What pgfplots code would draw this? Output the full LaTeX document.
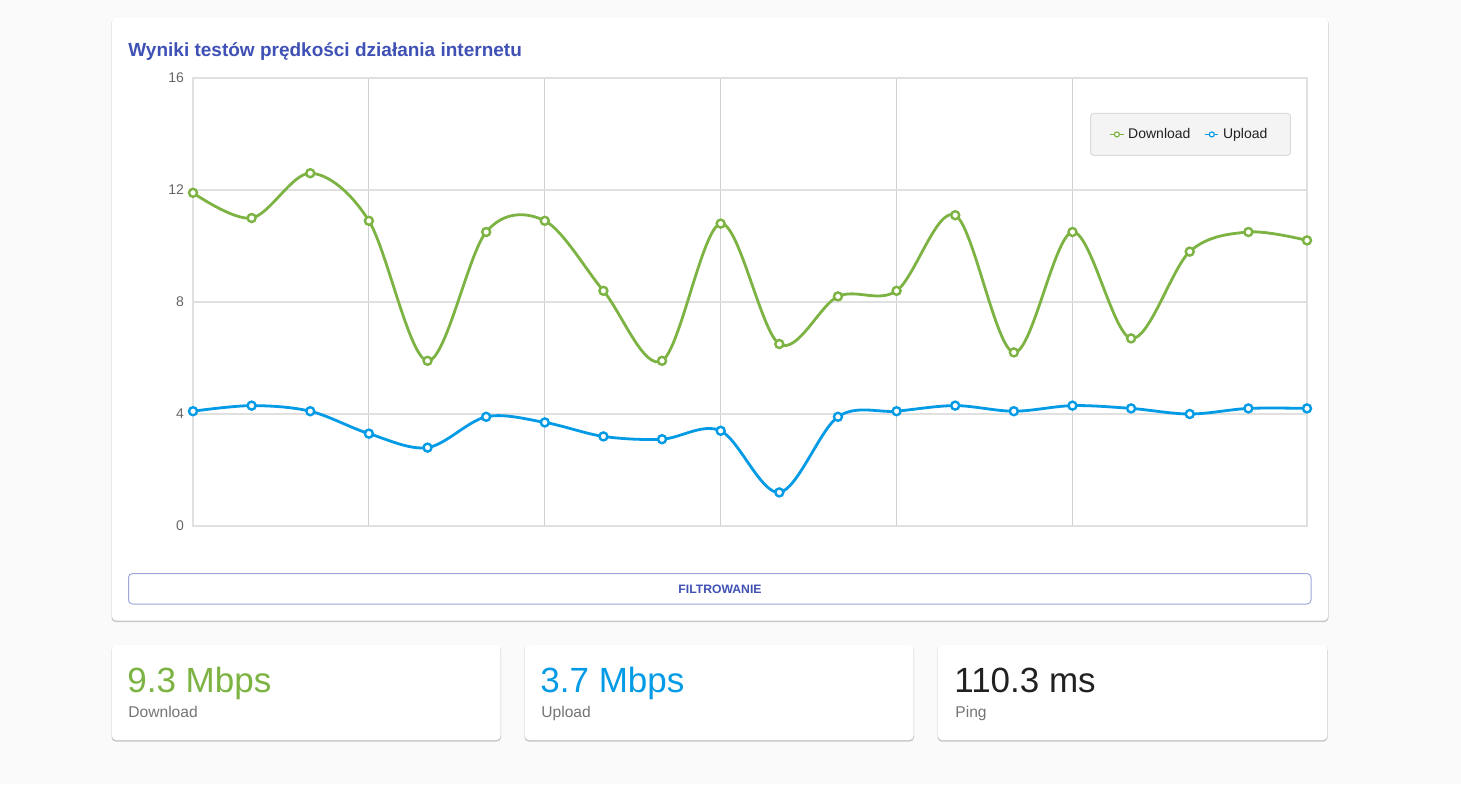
\documentclass[border=0pt]{standalone}
\usepackage{fontspec}
\setmainfont{Liberation Sans}
\usepackage{pgfplots}
\pgfplotsset{compat=1.18}
\definecolor{dl}{HTML}{7CB342}
\definecolor{ul}{HTML}{039BE5}
\definecolor{indigo}{HTML}{3F51B5}
\definecolor{pagebg}{HTML}{FAFAFA}
\definecolor{shadowc}{HTML}{C8C8C8}
\definecolor{gridc}{HTML}{E0E0E0}
\definecolor{vgridc}{HTML}{CFCFCF}
\definecolor{tickc}{HTML}{666666}
\definecolor{legbg}{HTML}{F4F4F4}
\definecolor{legborder}{HTML}{DADADA}
\definecolor{btnborder}{HTML}{9FA8DA}
\definecolor{subc}{HTML}{757575}
\definecolor{darkc}{HTML}{212121}
\pgfplotstableread{
x dl ul
0 11.9 4.1
1 11.0 4.3
2 12.6 4.1
3 10.9 3.3
4 5.9 2.8
5 10.5 3.9
6 10.9 3.7
7 8.4 3.2
8 5.9 3.1
9 10.8 3.4
10 6.5 1.2
11 8.2 3.9
12 8.4 4.1
13 11.1 4.3
14 6.2 4.1
15 10.5 4.3
16 6.7 4.2
17 9.8 4.0
18 10.5 4.2
19 10.2 4.2
}\speedtable
\begin{document}
\begin{tikzpicture}
\begin{scope}[x=0.5pt,y=-0.5pt]
\fill[pagebg] (0,0) rectangle (1461,784);
% main card
\fill[shadowc, rounded corners=2pt] (111.5,19) rectangle (1328.5,622);
\fill[white, rounded corners=2pt] (112,18) rectangle (1328,620.5);
\node[anchor=base west, inner sep=0pt, text=indigo, font=\bfseries\fontsize{9.5}{11}\selectfont] at (128,56) {Wyniki testów prędkości działania internetu};
% button
\draw[btnborder, rounded corners=2pt, line width=0.5pt] (128.5,573.5) rectangle (1311,604);
\node[text=indigo, inner sep=0pt, font=\bfseries\fontsize{6.1}{7}\selectfont] at (720,589) {FILTROWANIE};
% bottom cards
\foreach \a/\b in {112/500.5,525/913.5,938/1327} {
  \fill[shadowc, rounded corners=2pt] (\a-0.5,646) rectangle (\b+0.5,741.5);
  \fill[white, rounded corners=2pt] (\a,645) rectangle (\b,740);
}
\node[anchor=base west, inner sep=0pt, text=dl, font=\fontsize{17.5}{20}\selectfont] at (127,692) {9.3 Mbps};
\node[anchor=base west, inner sep=0pt, text=subc, font=\fontsize{7.8}{9}\selectfont] at (128,717) {Download};
\node[anchor=base west, inner sep=0pt, text=ul, font=\fontsize{17.5}{20}\selectfont] at (540,692) {3.7 Mbps};
\node[anchor=base west, inner sep=0pt, text=subc, font=\fontsize{7.8}{9}\selectfont] at (541,717) {Upload};
\node[anchor=base west, inner sep=0pt, text=darkc, font=\fontsize{17.5}{20}\selectfont] at (954,692) {110.3 ms};
\node[anchor=base west, inner sep=0pt, text=subc, font=\fontsize{7.8}{9}\selectfont] at (955,717) {Ping};
\end{scope}
\begin{axis}[
  at={(96.5pt,-263pt)}, anchor=south west,
  width=557pt, height=224pt, scale only axis,
  xmin=0, xmax=19, ymin=0, ymax=16,
  ytick={0,4,8,12,16}, xtick={3,6,9,12,15}, xticklabels={},
  xmajorgrids, ymajorgrids,
  x grid style={vgridc, line width=0.5pt},
  y grid style={gridc, line width=0.6pt},
  axis line style={gridc, line width=0.6pt},
  tick style={draw=none},
  yticklabel style={font=\fontsize{7}{8}\selectfont, text=tickc, xshift=-1pt},
  /pgf/number format/assume math mode=true,
  clip=false,
  legend columns=2,
  legend style={at={(0.9856,0.922)}, anchor=north east, fill=legbg, draw=legborder,
    rounded corners=1.5pt, font=\fontsize{7}{8}\selectfont, text=darkc,
    inner xsep=9.5pt, inner ysep=5.2pt, line width=0.5pt},
  legend cell align=left,
  /tikz/every even column/.append style={column sep=5pt},
  legend image code/.code={
    \draw[#1, line width=0.7pt, mark=none] (0pt,0pt) -- (6.6pt,0pt);
    \draw[#1, line width=0.6pt, fill=white] (3.3pt,0pt) circle (1.25pt);
  },
]
\addplot[dl, line width=1.4pt, smooth, tension=0.55, mark=*, mark size=2pt,
  mark options={fill=white, line width=1.2pt}]
  table[x=x, y=dl] {\speedtable};
\addlegendentry{Download}
\addplot[ul, line width=1.4pt, smooth, tension=0.55, mark=*, mark size=2pt,
  mark options={fill=white, line width=1.2pt}]
  table[x=x, y=ul] {\speedtable};
\addlegendentry{Upload}
\end{axis}
\end{tikzpicture}
\end{document}
